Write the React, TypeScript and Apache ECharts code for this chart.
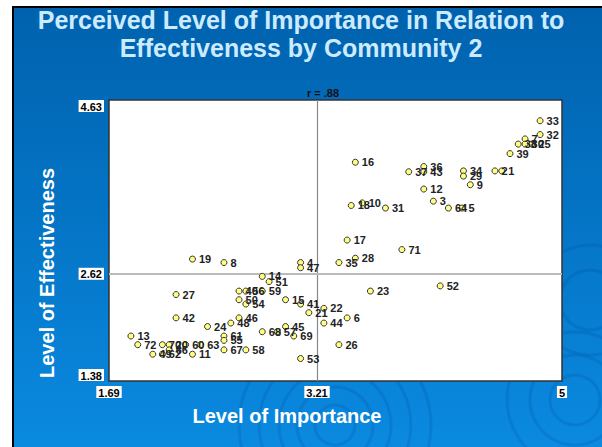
import React, { useEffect, useRef } from "react";
import * as echarts from "echarts";

const itemLabels = [
  "33", "32", "7", "38", "30", "25", "39", "16", "36", "37", "43", "34", "29", "2", "1", "9", "12", "3",
  "18", "10", "31", "64", "5", "17", "28", "71", "35", "4", "47", "19", "8", "14", "51", "52", "23", "27",
  "40", "56", "59", "15", "50", "54", "41", "22", "21", "6", "44", "46", "48", "42", "24", "45", "68", "57",
  "69", "61", "55", "67", "58", "26", "53", "13", "72", "70", "20", "60", "63", "49", "62", "66", "11",
];
const importance = [
  4.84, 4.84, 4.73, 4.68, 4.73, 4.78, 4.62, 3.49, 3.99, 3.88, 3.99, 4.28, 4.28, 4.51, 4.56, 4.33, 3.99, 4.06,
  3.46, 3.54, 3.71, 4.17, 4.27, 3.43, 3.49, 3.83, 3.37, 3.09, 3.09, 2.30, 2.53, 2.81, 2.86, 4.11, 3.60, 2.18,
  2.64, 2.69, 2.81, 2.98, 2.64, 2.69, 3.09, 3.26, 3.15, 3.43, 3.26, 2.64, 2.58, 2.18, 2.41, 2.98, 2.81, 2.92,
  3.04, 2.53, 2.53, 2.53, 2.69, 3.37, 3.09, 1.85, 1.90, 2.08, 2.13, 2.25, 2.36, 2.01, 2.08, 2.13, 2.30,
];
const effectiveness = [
  4.39, 4.23, 4.18, 4.12, 4.12, 4.12, 4.01, 3.91, 3.86, 3.80, 3.80, 3.81, 3.75, 3.81, 3.81, 3.65, 3.60, 3.46,
  3.41, 3.44, 3.38, 3.38, 3.38, 3.01, 2.80, 2.90, 2.75, 2.75, 2.69, 2.79, 2.75, 2.59, 2.53, 2.48, 2.42, 2.38,
  2.42, 2.42, 2.42, 2.32, 2.32, 2.27, 2.27, 2.22, 2.17, 2.11, 2.05, 2.11, 2.05, 2.11, 2.01, 2.01, 1.95, 1.95,
  1.90, 1.90, 1.85, 1.74, 1.74, 1.80, 1.64, 1.90, 1.80, 1.80, 1.80, 1.80, 1.80, 1.69, 1.69, 1.74, 1.69,
];

const xTicks = [1.69, 3.21, 5];
const yTicks = [1.38, 2.62, 4.63];
const xMean = 3.21;
const yMean = 2.62;
const rText = "r = .88";
const xTitle = "Level of Importance";
const yTitle = "Level of Effectiveness";

const FONT = "Liberation Sans, Arial, sans-serif";

export default function App() {
  const ref = useRef<HTMLDivElement>(null);

  useEffect(() => {
    document.body.style.margin = "0";
    if (!ref.current) return;
    const chart = echarts.init(ref.current, null, { renderer: "svg" });

    const data = importance.map((x, i) => [x, effectiveness[i], itemLabels[i]]);

    const rings: any[] = [];
    const addRings = (cx: number, cy: number, radii: number[]) => {
      radii.forEach((r) =>
        rings.push({
          type: "circle",
          shape: { cx, cy, r },
          style: { fill: "none", stroke: "rgba(0,60,140,0.16)", lineWidth: 3 },
          silent: true,
          z: -10,
        })
      );
    };
    addRings(335, 425, [20, 38, 56, 76, 96]);
    addRings(575, 400, [25, 45, 68]);
    addRings(590, 300, [30, 55]);

    const nameStyle = { fill: "#ffffff", fontSize: 20, fontWeight: "bold", fontFamily: FONT };
    const titles: any[] = [
      {
        type: "text",
        x: 287,
        y: 416,
        style: { text: xTitle, align: "center", verticalAlign: "middle", ...nameStyle },
        z: 10,
      },
      {
        type: "text",
        x: 47,
        y: 273,
        rotation: Math.PI / 2,
        style: { text: yTitle, align: "center", verticalAlign: "middle", ...nameStyle },
        z: 10,
      },
    ];

    const labelBox = {
      color: "#000",
      fontWeight: "bold",
      fontSize: 11,
      fontFamily: FONT,
      backgroundColor: "#ffffff",
      padding: [1, 2, 0, 2],
    };

    chart.setOption({
      animation: false,
      backgroundColor: "transparent",
      title: [
        {
          text: "Perceived Level of Importance in Relation to\nEffectiveness by Community 2",
          left: 301,
          top: 6,
          padding: 0,
          textAlign: "center",
          textStyle: {
            color: "#CDEBFF",
            fontSize: 25,
            fontWeight: "bold",
            fontFamily: FONT,
            lineHeight: 28,
          },
        },
        {
          text: rText,
          left: 307,
          top: 87,
          padding: 0,
          textStyle: { color: "#111", fontSize: 11, fontWeight: "bold", fontFamily: FONT },
        },
      ],
      graphic: [...rings, ...titles],
      grid: {
        left: 109,
        top: 100,
        width: 453,
        height: 281,
        show: true,
        backgroundColor: "#ffffff",
        borderColor: "#333333",
        borderWidth: 1.5,
      },
      xAxis: {
        type: "value",
        min: 1.69,
        max: 5,
        splitLine: { show: false },
        axisLine: { show: false },
        axisTick: { show: false },
        axisLabel: {
          customValues: xTicks,
          formatter: (v: number) => String(v),
          margin: 5,
          ...labelBox,
        },
      },
      yAxis: {
        type: "value",
        min: 1.38,
        max: 4.63,
        splitLine: { show: false },
        axisLine: { show: false },
        axisTick: { show: false },
        axisLabel: {
          customValues: yTicks,
          formatter: (v: number) => String(v),
          margin: 5,
          verticalAlignMinLabel: "bottom",
          verticalAlignMaxLabel: "top",
          ...labelBox,
        },
      },
      series: [
        {
          type: "scatter",
          data,
          symbol: "circle",
          symbolSize: 6,
          itemStyle: { color: "#FFFF80", borderColor: "#333", borderWidth: 1, opacity: 1 },
          label: {
            show: true,
            position: "right",
            distance: 3,
            formatter: (p: any) => p.data[2],
            color: "#222",
            fontSize: 11,
            fontWeight: "bold",
            fontFamily: FONT,
          },
          labelLayout: { hideOverlap: false },
          markLine: {
            silent: true,
            symbol: "none",
            label: { show: false },
            data: [
              { xAxis: xMean, lineStyle: { color: "#888", width: 1.2, type: "solid" } },
              { yAxis: yMean, lineStyle: { color: "#BBBBBB", width: 2, type: "solid" } },
            ],
          },
          z: 5,
        },
      ],
    });

    return () => chart.dispose();
  }, []);

  return (
    <div style={{ position: "relative", width: 602, height: 447, background: "#ffffff", overflow: "hidden" }}>
      <div
        style={{
          position: "absolute",
          left: 12,
          top: 6,
          right: 0,
          bottom: 0,
          borderLeft: "2px solid #000",
          borderTop: "2px solid #000",
          background: "linear-gradient(to bottom, #0062AE 0%, #0473C4 45%, #0A8AE0 100%)",
        }}
      />
      <div ref={ref} style={{ position: "absolute", left: 0, top: 0, width: 602, height: 447 }} />
    </div>
  );
}
